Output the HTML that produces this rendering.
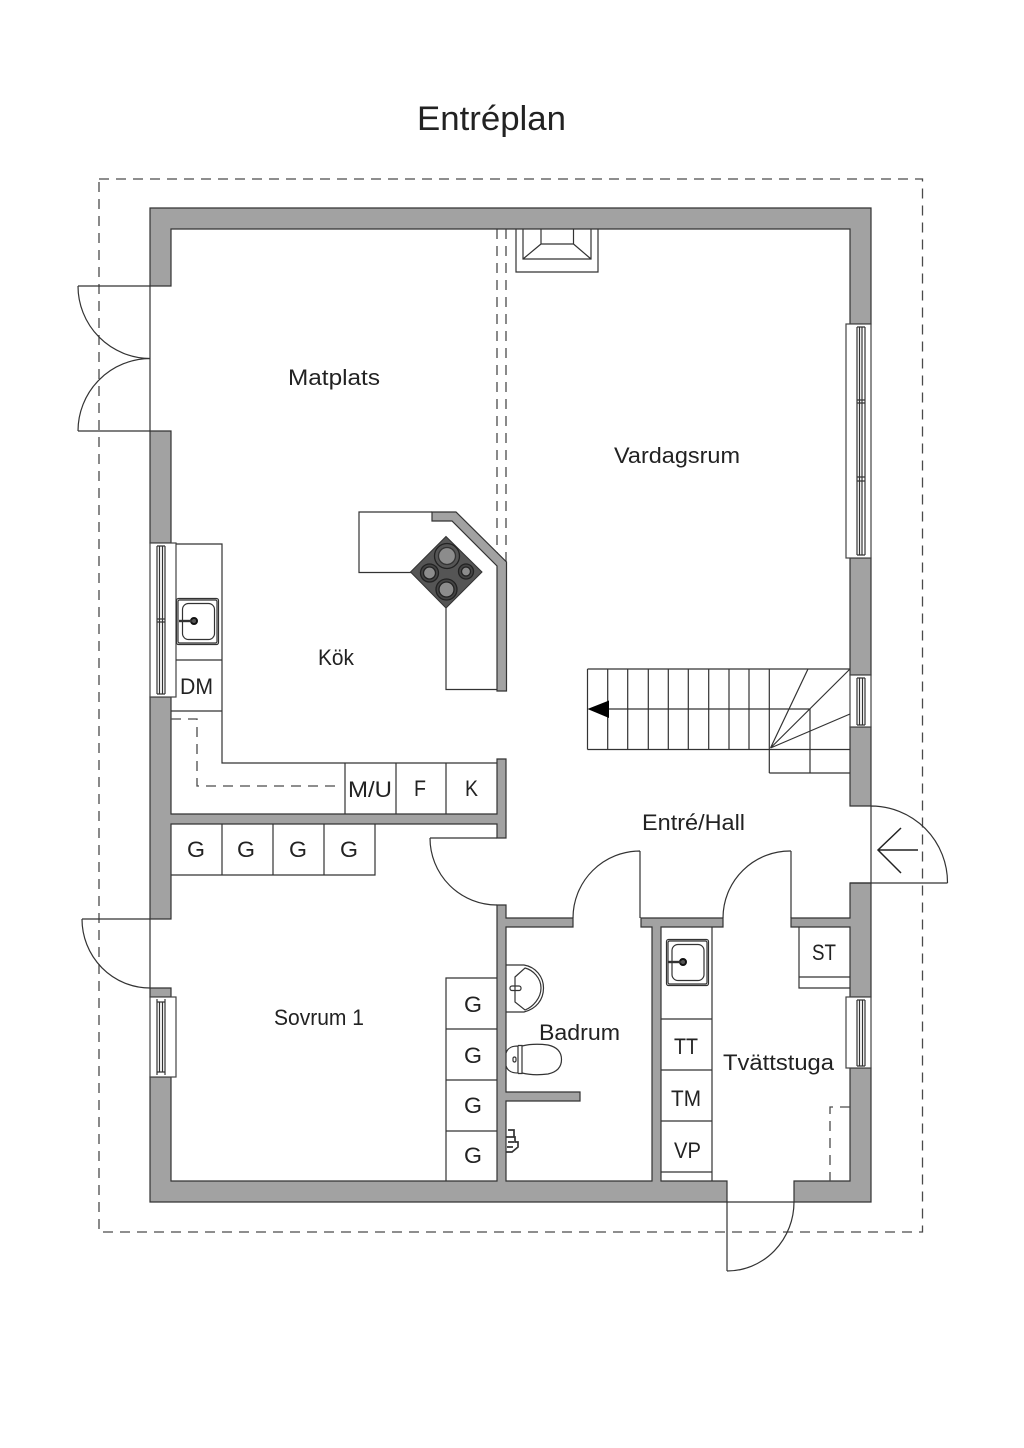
<!DOCTYPE html>
<html lang="sv">
<head>
<meta charset="utf-8">
<title>Entréplan</title>
<style>
html,body{margin:0;padding:0;background:#fff;width:1024px;height:1448px;overflow:hidden}
svg{display:block}
text{font-family:"Liberation Sans",sans-serif;fill:#222;font-size:22px}
.w{fill:#a2a2a2;stroke:#333;stroke-width:1.2}
.l{fill:none;stroke:#333;stroke-width:1.2}
.o{fill:#fff;stroke:#444;stroke-width:1.2}
.d{fill:none;stroke:#4a4a4a;stroke-width:1.3;stroke-dasharray:10 7}
</style>
</head>
<body>
<svg width="1024" height="1448" viewBox="0 0 1024 1448" xmlns="http://www.w3.org/2000/svg">
<rect width="1024" height="1448" fill="#fff"/>

<!-- site outline -->
<rect class="d" x="99" y="179" width="823.5" height="1053"/>
<path class="d" d="M497 229V556M506 229V562"/>

<!-- walls -->
<path class="w" d="M150 286V208H871V324H850V229H171V286Z"/>
<path class="w" d="M150 431H171V543H150Z"/>
<path class="w" d="M150 697H171V814H497V759H506V838H497V824H171V919H150Z"/>
<path class="w" d="M150 988H171V997H150Z"/>
<path class="w" d="M150 1077H171V1181H497V905H506V918H573V927H506V1092H580V1101H506V1181H652V927H641V918H723V927H661V1181H727V1202H150Z"/>
<path class="w" d="M794 1202V1181H850V1068H871V1202Z"/>
<path class="w" d="M850 558H871V675H850Z"/>
<path class="w" d="M850 727H871V806H850Z"/>
<path class="w" d="M850 883H871V997H850V927H791V918H850Z"/>

<!-- left double door -->
<path class="l" d="M150 286V431M78 286H150M78 431H150M78 286A72.500 72.500 0 0 0 150 358.500M78 431A72.500 72.500 0 0 1 150 358.500"/>
<!-- sovrum exterior door -->
<path class="l" d="M150 919V988M82 919H150M82 919A68 69 0 0 0 150 988"/>
<!-- interior doors -->
<path class="l" d="M430 838H497M430 838A67 67 0 0 0 497 905"/>
<path class="l" d="M640 851V918M640 851A67 67 0 0 0 573 918"/>
<path class="l" d="M791 851V918M791 851A67 67 0 0 0 723 918"/>
<!-- entry door -->
<path class="l" d="M871 806V883M850 883H947.500M871 806A76.500 76.500 0 0 1 947.500 883"/>
<path fill="none" stroke="#222" stroke-width="1.500" d="M918 850H878M901 828L878 850L901 873"/>
<!-- back door -->
<path class="l" d="M727 1202V1271M727 1202H794M727 1271A67 69 0 0 0 794 1202"/>

<!-- windows -->
<g>
<rect class="o" x="846" y="324" width="25" height="234"/>
<path class="l" d="M857 327V555M859.500 327V555M862 327V555M865 327V555M857 327H865M857 555H865M857 400H865M857 403H865M857 477H865M857 481H865"/>
<rect class="o" x="850" y="675" width="21" height="52"/>
<path class="l" d="M857 678V725M865 678V725M859.500 678V725M862.500 678V725M857 678H865M857 725H865"/>
<rect class="o" x="846" y="997" width="25" height="71"/>
<path class="l" d="M857 1000V1066M865 1000V1066M859.500 1000V1066M862.500 1000V1066M857 1000H865M857 1066H865"/>
<rect class="o" x="150" y="543" width="26" height="154"/>
<path class="l" d="M157 546V694M165 546V694M159.500 546V694M162.500 546V694M157 546H165M157 694H165M157 619H165M157 622H165"/>
<rect class="o" x="150" y="997" width="26" height="80"/>
<path class="l" d="M157 999V1075M165 999V1075M159.500 1002V1072M162.500 1002V1072M157 1002H165M157 1072H165"/>
</g>

<!-- fireplace -->
<path class="l" d="M516 229V272H598V229M523 229V259H591V229M541 229V244H573.500V229M541 244L523 259M573.500 244L591 259"/>

<!-- kitchen counters -->
<path class="l" d="M176 544H222V763H497M176 660H222M171 711H222M345 763V814M396 763V814M446 763V814"/>
<path class="d" d="M171 719H197V786H342"/>

<!-- sink 1 -->
<g>
<rect class="l" x="176.500" y="598.500" width="42" height="46" rx="2"/>
<rect class="l" x="178" y="600" width="39" height="43" rx="1.500"/>
<rect class="l" x="182.500" y="603.500" width="32" height="36" rx="6"/>
<circle cx="194" cy="621" r="3" fill="#555" stroke="#111" stroke-width="2"/>
<path d="M179 621H192" stroke="#333" stroke-width="2.400" fill="none"/>
</g>
<!-- sink 2 -->
<g>
<rect class="l" x="666.500" y="939.500" width="42" height="46" rx="2"/>
<rect class="l" x="668" y="941" width="39" height="43" rx="1.500"/>
<rect class="l" x="672" y="944.500" width="32" height="36" rx="6"/>
<circle cx="683" cy="962" r="3" fill="#555" stroke="#111" stroke-width="2"/>
<path d="M668 962H681" stroke="#333" stroke-width="2.400" fill="none"/>
</g>

<!-- island -->
<path class="l" d="M432 512H359V572.500H411M446 608V689.500H497"/>
<path class="w" d="M432 512H456L506.500 562V691H497V566L452 521H432Z"/>
<path fill="#555" stroke="#333" stroke-width="1" d="M446 536.500L482 572L446 608L410.500 572Z"/>
<g stroke="#222" stroke-width="1.300">
<circle cx="447" cy="556" r="12.500" fill="#555"/><circle cx="447" cy="556" r="8.500" fill="#8c8c8c" stroke="#333"/>
<circle cx="429.500" cy="573" r="9" fill="#444"/><circle cx="429.500" cy="573" r="6" fill="#8c8c8c"/>
<circle cx="466" cy="571.500" r="7.500" fill="#444"/><circle cx="466" cy="571.500" r="4.500" fill="#8c8c8c"/>
<circle cx="446.500" cy="589.500" r="10.500" fill="#444"/><circle cx="446.500" cy="589.500" r="7.500" fill="#8c8c8c"/>
</g>

<!-- stairs -->
<path class="l" d="M587.500 669H850M587.500 749.500H850M587.500 669V749.500M607.700 669V749.500M627.700 669V749.500M648.300 669V749.500M668.300 669V749.500M688.300 669V749.500M708.700 669V749.500M729 669V749.500M749 669V749.500M769.300 669V773M607 709H810M810 709V773M769.300 773H850M770.500 748L808 669M770.500 748L850 669M770.500 748L850 714"/>
<path d="M587.500 709L609 700.500V718Z" fill="#000"/>

<!-- wardrobes -->
<path class="l" d="M171 875H375V824M222 824V875M273 824V875M324 824V875"/>
<path class="l" d="M497 978H446V1181M446 1029H497M446 1080H497M446 1131H497"/>

<!-- laundry -->
<path class="l" d="M712 927V1181M661 1019H712M661 1070H712M661 1121H712M661 1172H712"/>
<path class="l" d="M799 927V988H850M799 977H850"/>
<path class="d" d="M850 1107H830V1181"/>

<!-- washbasin -->
<path class="l" d="M506 965H524C536 967 543.500 977 543.500 988C543.500 1000 536 1009 524 1012H506"/>
<path class="l" d="M515 977L525 968C533 970 541 978 541 988C541 998 533 1007 525 1010L515 1002Z"/>
<rect class="l" x="510" y="986" width="11" height="4.500" rx="2"/>
<!-- toilet -->
<path class="l" d="M506 1053C508 1047 513 1046 518 1046V1073C513 1073 508 1072 506 1066"/>
<path class="l" d="M518 1045.500H522V1073.500H518"/>
<path class="l" d="M522 1046C530 1044 540 1044 548 1045C557 1047 561.500 1052 561.500 1059.500C561.500 1067 557 1072 548 1074C540 1075 530 1075 522 1073"/>
<rect class="l" x="513" y="1057" width="3" height="5" rx="1.500"/>
<!-- tap -->
<path fill="none" stroke="#333" stroke-width="1.700" d="M508 1130H514V1137H508M506 1137H515V1142H518V1147L512 1152H506M508 1142H514M507 1147H513"/>

<!-- labels -->
<text x="417" y="130" style="font-size:34px" textLength="149" lengthAdjust="spacingAndGlyphs">Entréplan</text>
<text x="288" y="385" textLength="92" lengthAdjust="spacingAndGlyphs">Matplats</text>
<text x="614" y="463" textLength="126" lengthAdjust="spacingAndGlyphs">Vardagsrum</text>
<text x="318" y="665" textLength="36" lengthAdjust="spacingAndGlyphs">Kök</text>
<text x="180" y="694" textLength="33" lengthAdjust="spacingAndGlyphs">DM</text>
<text x="348" y="797" textLength="44" lengthAdjust="spacingAndGlyphs">M/U</text>
<text x="414" y="796" textLength="12" lengthAdjust="spacingAndGlyphs">F</text>
<text x="465" y="796" textLength="13" lengthAdjust="spacingAndGlyphs">K</text>
<text x="642" y="830" textLength="103" lengthAdjust="spacingAndGlyphs">Entré/Hall</text>
<text x="187" y="857" textLength="18" lengthAdjust="spacingAndGlyphs">G</text>
<text x="237" y="857" textLength="18" lengthAdjust="spacingAndGlyphs">G</text>
<text x="289" y="857" textLength="18" lengthAdjust="spacingAndGlyphs">G</text>
<text x="340" y="857" textLength="18" lengthAdjust="spacingAndGlyphs">G</text>
<text x="274" y="1025" textLength="90" lengthAdjust="spacingAndGlyphs">Sovrum 1</text>
<text x="464" y="1012" textLength="18" lengthAdjust="spacingAndGlyphs">G</text>
<text x="464" y="1063" textLength="18" lengthAdjust="spacingAndGlyphs">G</text>
<text x="464" y="1113" textLength="18" lengthAdjust="spacingAndGlyphs">G</text>
<text x="464" y="1163" textLength="18" lengthAdjust="spacingAndGlyphs">G</text>
<text x="539" y="1040" textLength="81" lengthAdjust="spacingAndGlyphs">Badrum</text>
<text x="723" y="1070" textLength="111" lengthAdjust="spacingAndGlyphs">Tvättstuga</text>
<text x="812" y="960" textLength="24" lengthAdjust="spacingAndGlyphs">ST</text>
<text x="674" y="1054" textLength="24" lengthAdjust="spacingAndGlyphs">TT</text>
<text x="671" y="1106" textLength="30" lengthAdjust="spacingAndGlyphs">TM</text>
<text x="674" y="1158" textLength="27" lengthAdjust="spacingAndGlyphs">VP</text>
</svg>
</body>
</html>
